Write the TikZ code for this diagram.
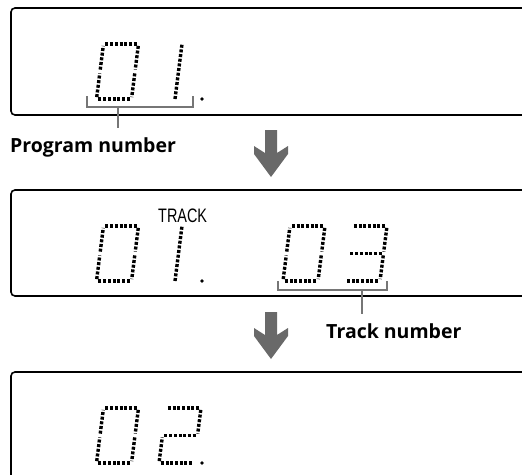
\documentclass[tikz,border=0pt]{standalone}
\usepackage{fontspec}
\usetikzlibrary{calc}
\newfontfamily\labfont{Open Sans}
\newfontfamily\lcdfont{Liberation Sans}
\definecolor{arrgray}{RGB}{105,105,105}
\definecolor{brkgray}{RGB}{118,118,118}
\newcommand\gp{1.9pt}
\newcommand\lcddigit[3]{%
  \begin{scope}[shift={(#1,#2)}]
    \coordinate (BL) at (0,0);
    \coordinate (BR) at (35,0);
    \coordinate (ML) at (3.5,-27.5);
    \coordinate (MR) at (38.5,-27.5);
    \coordinate (TL) at (7,-55);
    \coordinate (TR) at (42,-55);
    \foreach \p/\q in {#3} {\draw[segline] ($(\p)!\gp!(\q)$) -- ($(\q)!\gp!(\p)$);}
  \end{scope}}
\newcommand\bigdownarrow[2]{%
  \fill[arrgray] (#1-6,#2) -- (#1+6,#2) -- (#1+6,#2+23) -- (#1+17,#2+16) -- (#1+17,#2+24)
    -- (#1,#2+47) -- (#1-17,#2+24) -- (#1-17,#2+16) -- (#1-6,#2+23) -- cycle;}
\begin{document}
\begin{tikzpicture}[x=1pt,y=-1pt,
  segline/.style={line width=3.4pt,dash pattern=on 3pt off 1.7pt,black},
  boxline/.style={line width=1.6pt,black,rounded corners=4pt},
  brk/.style={line width=2.3pt,brkgray},
  lab/.style={font=\labfont\bfseries\fontsize{19.5}{23}\selectfont,inner sep=0pt,anchor=base west},
  lcddot/.style={fill=black}]
\useasboundingbox (0,0) rectangle (522,474);
\clip (0,0) rectangle (522,474);
% panel 1
\draw[boxline] (540,8) -- (11,8) -- (11,115) -- (540,115);
\lcddigit{96.5}{99}{TL/TR,TR/MR,MR/BR,BR/BL,BL/ML,ML/TL}
\draw[segline] (175,99) -- (182,44);
\fill[lcddot] (202,99) circle (1.8);
\draw[brk] (87,96) -- (87,107) -- (193,107) -- (193,96);
\coordinate (b1) at (118,107);
\coordinate (s1) at (118,128);
\draw[brk] (b1) -- (s1);
\node[lab] (prog) at (10,152) {Program number};
\bigdownarrow{271}{130}
% panel 2
\draw[boxline] (540,190) -- (11,190) -- (11,296) -- (540,296);
\node[font=\lcdfont\fontsize{19.5}{20}\selectfont,inner sep=0pt,anchor=base west] (trk) at (158,222) {\scalebox{0.74}[1]{TRACK}};
\lcddigit{96.5}{281}{TL/TR,TR/MR,MR/BR,BR/BL,BL/ML,ML/TL}
\draw[segline] (175,281) -- (182,226);
\fill[lcddot] (202,281) circle (1.8);
\lcddigit{283}{281}{TL/TR,TR/MR,MR/BR,BR/BL,BL/ML,ML/TL}
\lcddigit{345}{281}{TL/TR,TR/MR,MR/BR,BR/BL,ML/MR}
\draw[brk] (278,281) -- (278,290) -- (387,290) -- (387,281);
\coordinate (b2) at (362,290);
\coordinate (s2) at (362,314);
\draw[brk] (b2) -- (s2);
\node[lab] (track) at (326,338) {Track number};
\bigdownarrow{271}{312}
% panel 3
\draw[boxline] (540,372) -- (11,372) -- (11,490);
\lcddigit{96.5}{463}{TL/TR,TR/MR,MR/BR,BR/BL,BL/ML,ML/TL}
\lcddigit{159}{463}{TL/TR,TR/MR,ML/MR,BL/ML,BL/BR}
\fill[lcddot] (202,463) circle (1.8);
\end{tikzpicture}
\end{document}
